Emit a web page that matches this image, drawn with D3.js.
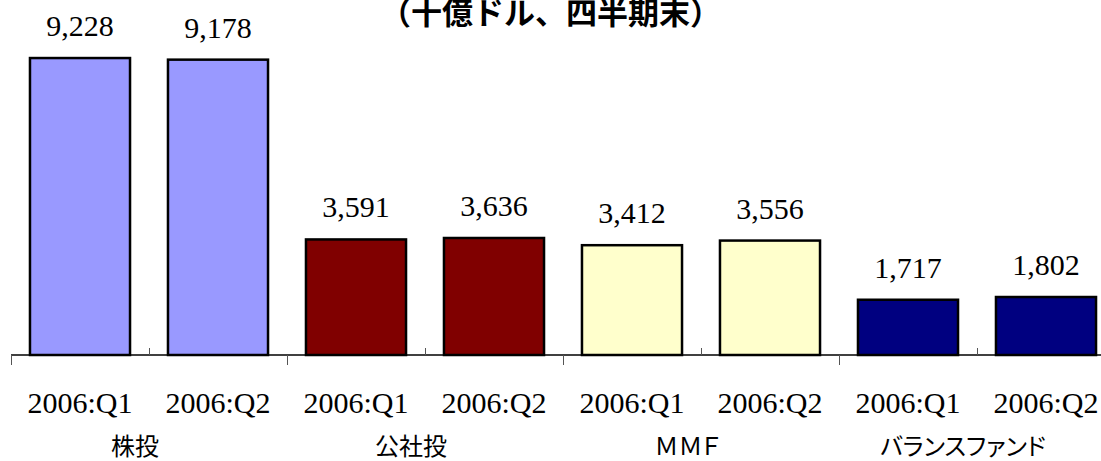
<!DOCTYPE html>
<html lang="en">
<head>
    <meta charset="UTF-8">
    <title>投信残高</title>
    <script src="https://d3js.org/d3.v7.min.js"></script>
    <style>
        body {
            margin: 0;
            padding: 0;
            background-color: #ffffff;
        }
        svg {
            display: block;
        }
        .glabel {
            font-feature-settings: "palt";
        }
    </style>
</head>
<body>
    <svg id="chart" width="1101" height="461"></svg>

    <script>
        // data
        const groups = ["株投", "公社投", "ＭＭＦ", "バランスファンド"];
        const quarters = ["2006:Q1", "2006:Q2"];
        const values = [9228, 9178, 3591, 3636, 3412, 3556, 1717, 1802];
        const groupColors = ["#9999ff", "#800000", "#ffffcc", "#000080"];

        const width = 1101, height = 461;
        const left = 11, step = 138, baseY = 355;
        const serif = "Liberation Serif, DejaVu Serif, serif";
        const gothic = "Noto Sans CJK JP, sans-serif";

        // flat list of bars
        const bars = values.map(function(v, i) {
            return {
                key: i,
                group: Math.floor(i / quarters.length),
                quarter: quarters[i % quarters.length],
                value: v
            };
        });

        const svg = d3.select("#chart");

        const x = d3.scaleBand()
                    .domain(bars.map(d => d.key))
                    .range([left, left + step * bars.length])
                    .paddingInner(0.275)
                    .paddingOuter(0.1375);

        const y = d3.scaleLinear()
                    .domain([0, 10000])
                    .range([baseY, 33.2]);

        // title (partly cut by the top edge, like the original)
        svg.append("text")
           .attr("x", width / 2)
           .attr("y", 24)
           .attr("text-anchor", "middle")
           .attr("font-family", gothic)
           .attr("font-size", 31)
           .attr("font-weight", "bold")
           .text("（十億ドル、四半期末）");

        // bars
        svg.selectAll(".bar")
           .data(bars)
           .enter().append("rect")
           .attr("class", "bar")
           .attr("x", d => x(d.key))
           .attr("y", d => y(d.value))
           .attr("width", x.bandwidth())
           .attr("height", d => baseY - y(d.value))
           .attr("fill", d => groupColors[d.group])
           .attr("stroke", "#000")
           .attr("stroke-width", 2.5);

        // value labels
        svg.selectAll(".val")
           .data(bars)
           .enter().append("text")
           .attr("x", d => x(d.key) + x.bandwidth() / 2)
           .attr("y", d => y(d.value) - 22)
           .attr("text-anchor", "middle")
           .attr("font-family", serif)
           .attr("font-size", 30)
           .text(d => d3.format(",")(d.value));

        // axis line
        svg.append("line")
           .attr("x1", left)
           .attr("x2", width)
           .attr("y1", baseY)
           .attr("y2", baseY)
           .attr("stroke", "#000")
           .attr("stroke-width", 1.5);

        // minor ticks between quarters (going up)
        const minor = d3.range(groups.length).map(g => left + step * (g * 2 + 1));
        svg.selectAll(".minor")
           .data(minor)
           .enter().append("line")
           .attr("x1", d => d + 0.5)
           .attr("x2", d => d + 0.5)
           .attr("y1", baseY - 7)
           .attr("y2", baseY)
           .attr("stroke", "#555");

        // major ticks between groups (going down)
        const major = d3.range(groups.length + 1).map(g => left + step * g * 2);
        svg.selectAll(".major")
           .data(major)
           .enter().append("line")
           .attr("x1", d => d + 0.5)
           .attr("x2", d => d + 0.5)
           .attr("y1", baseY)
           .attr("y2", baseY + 10)
           .attr("stroke", "#555");

        // quarter labels
        svg.selectAll(".qlabel")
           .data(bars)
           .enter().append("text")
           .attr("x", d => x(d.key) + x.bandwidth() / 2)
           .attr("y", 413)
           .attr("text-anchor", "middle")
           .attr("font-family", serif)
           .attr("font-size", 30)
           .text(d => d.quarter);

        // group labels
        svg.selectAll(".glabel")
           .data(groups)
           .enter().append("text")
           .attr("class", "glabel")
           .attr("x", (d, i) => left + step * (i * 2 + 1) - 14)
           .attr("y", 455)
           .attr("text-anchor", "middle")
           .attr("font-family", gothic)
           .attr("font-size", 24)
           .text(d => d);
    </script>
</body>
</html>
